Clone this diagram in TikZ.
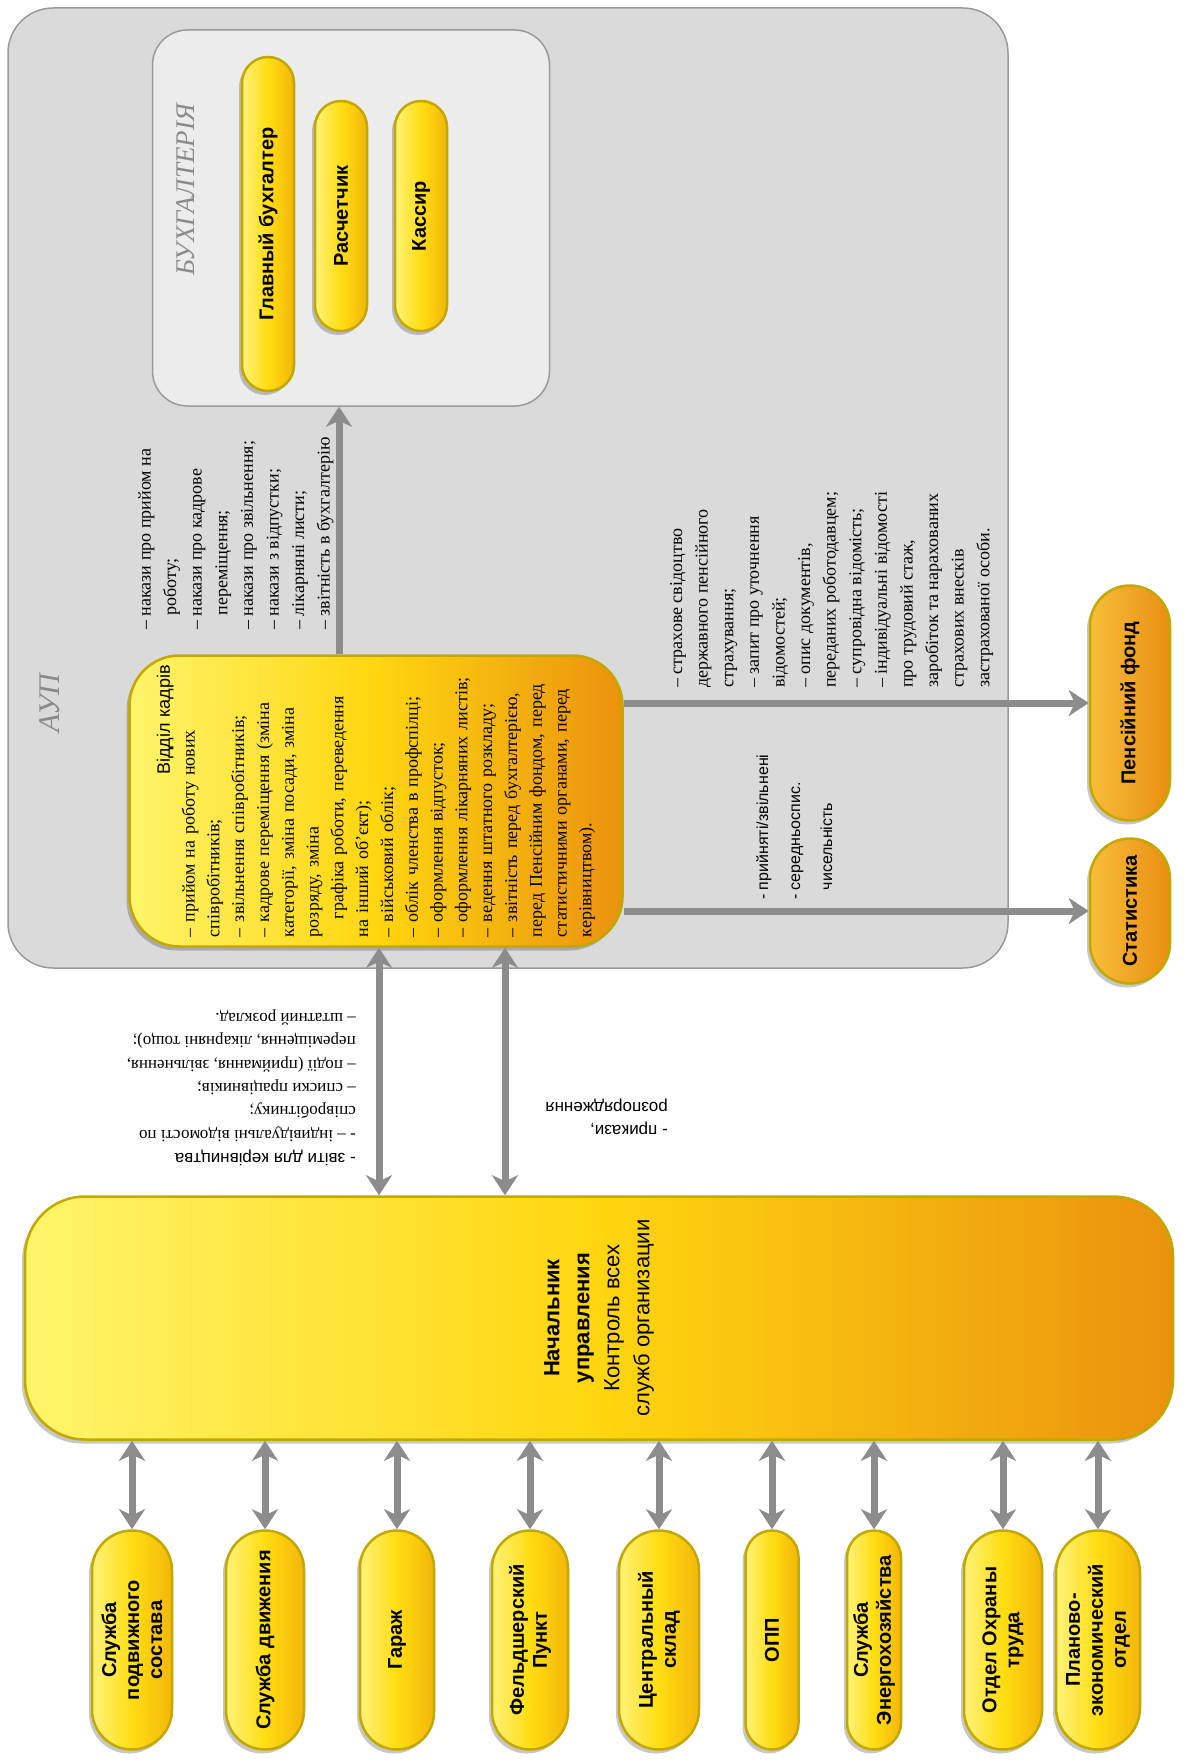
\documentclass[tikz,border=0pt]{standalone}
\usepackage{fontspec}
\setmainfont{Liberation Serif}
\setsansfont{Liberation Sans}
\usepackage{tikz}
\usetikzlibrary{arrows.meta,shapes.misc,shadows}
\definecolor{aupfill}{HTML}{DADADA}
\definecolor{aupline}{HTML}{9A9A9A}
\definecolor{buhfill}{HTML}{ECECEC}
\definecolor{arrowgray}{HTML}{8C8C8C}
\definecolor{lbl}{HTML}{8A8A8A}
\definecolor{pale}{HTML}{FFF46A}
\definecolor{yel}{HTML}{FFD60F}
\definecolor{orng}{HTML}{EA920E}
\definecolor{olive}{HTML}{C2A800}
\definecolor{pillleft}{HTML}{FFF27A}
\definecolor{pillmid}{HTML}{FFDD10}
\definecolor{pillright}{HTML}{F4B60A}
\definecolor{orleft}{HTML}{F7BE3A}
\definecolor{orright}{HTML}{E98E10}
\tikzset{
  shad/.style={drop shadow={shadow xshift=-3pt, shadow yshift=-4pt, fill=black, opacity=0.22}},
  aupbox/.style={fill=aupfill, draw=aupline, line width=1.5pt, rounded corners=45pt},
  buhbox/.style={fill=buhfill, draw=aupline, line width=1.5pt, rounded corners=35pt},
  pill/.style={rounded rectangle, rotate=90, draw=olive, line width=2.5pt, shad,
    left color=pillleft, right color=pillright, middle color=pillmid,
    font=\fontsize{20}{23}\selectfont\sffamily\bfseries, align=center, inner sep=1pt},
  opill/.style={pill, left color=orleft, right color=orright, middle color=orleft!50!orright},
  bigbox/.style={rectangle, rotate=90, draw=olive, line width=2.5pt, shad,
    left color=pale, right color=orng, middle color=yel},
  note/.style={rotate=90, align=left, inner sep=0pt, font=\fontsize{18}{25.6}\selectfont},
  upnote/.style={rotate=180, align=left, inner sep=0pt, font=\fontsize{17}{23.3}\selectfont},
  title/.style={rotate=90, text=lbl, font=\itshape},
  arrow/.style={draw=arrowgray, line width=7pt, -{Stealth[length=20pt,width=26pt,inset=6pt]}},
  dblarrow/.style={draw=arrowgray, line width=7pt,
    {Stealth[length=20pt,width=26pt,inset=6pt]}-{Stealth[length=20pt,width=26pt,inset=6pt]}}
}
\begin{document}
\begin{tikzpicture}[x=1pt,y=-1pt]
  \useasboundingbox (0,0) rectangle (1187,1760);
  \fill[white] (0,0) rectangle (1187,1760);

  % АУП
  \draw[aupbox] (8,8) rectangle (1008,968);
  \node[title, font=\fontsize{30}{36}\selectfont\itshape] (aup) at (50,703) {АУП};

  % бухгалтерия
  \node[buhbox, minimum width=397pt, minimum height=376pt] (buh) at (351,218) {};
  \node[title, font=\fontsize{27}{32}\selectfont\itshape] (buht) at (186,190) {БУХГАЛТЕРІЯ};
  \node[pill, minimum width=336pt, minimum height=52pt] (gb) at (268,224) {Главный бухгалтер};
  \node[pill, minimum width=232pt, minimum height=52pt] (ras) at (341,216) {Расчетчик};
  \node[pill, minimum width=232pt, minimum height=52pt] (kas) at (421,216) {Кассир};

  % отдел кадров
  \node[bigbox, rounded corners=50pt, minimum width=291pt, minimum height=493pt,
    text width=272pt, align=left, font=\fontsize{18}{24.8}\selectfont] (vk) at (376,801) {%
    \hspace*{\fill}{\sffamily Відділ кадрів}\hspace*{\fill}\\
    – прийом на роботу нових\\
    співробітників;\\
    – звільнення співробітників;\\
    – кадрове переміщення (зміна\\
    категорії, зміна посади, зміна\\
    розряду, зміна\\
    \hspace*{1em}графіка роботи, переведення\\
    на інший об’єкт);\\
    – військовий облік;\\
    – облік членства в профспілці;\\
    – оформлення відпусток;\\
    – оформлення лікарняних листів;\\
    – ведення штатного розкладу;\\
    – звітність перед бухгалтерією,\\
    перед Пенсійним фондом, перед\\
    статистичними органами, перед\\
    керівництвом).};

  \node[note, anchor=north west] (nak) at (138,630) {%
    – накази про прийом на\\
    \hspace*{0.8em}роботу;\\
    – накази про кадрове\\
    \hspace*{0.8em}переміщення;\\
    – накази про звільнення;\\
    – накази з відпустки;\\
    – лікарняні листи;\\
    – звітність в бухгалтерію};

  % внешние
  \node[opill, minimum width=237pt, minimum height=80pt] (pf) at (1130,703) {Пенсійний фонд};
  \node[opill, minimum width=147pt, minimum height=80pt] (st) at (1130,911) {Статистика};

  \node[note, anchor=north west] (pfn) at (670,688) {%
    – страхове свідоцтво\\
    державного пенсійного\\
    страхування;\\
    – запит про уточнення\\
    відомостей;\\
    – опис документів,\\
    переданих роботодавцем;\\
    – супровідна відомість;\\
    – індивідуальні відомості\\
    про трудовий стаж,\\
    заробіток та нарахованих\\
    страхових внесків\\
    застрахованої особи.};

  \node[note, anchor=north west, font=\fontsize{16}{32}\selectfont\sffamily] (stn) at (756,900) {%
    - прийняті/звільнені\\
    - середньоспис.\\
    \hspace*{0.6em}чисельність};

  % начальник
  \node[bigbox, rounded corners=60pt, minimum width=243pt, minimum height=1148pt,
    align=center, font=\fontsize{22}{30}\selectfont\sffamily] (boss) at (599,1318) {%
    \textbf{Начальник}\\
    \textbf{управления}\\
    Контроль всех\\
    служб организации};

  \node[upnote, anchor=north west] (zvt) at (356,1166) {%
    {\sffamily - звіти для керівництва}\\
    - – індивідуальні відомості по\\
    співробітнику;\\
    – списки працівників;\\
    – події (приймання, звільнення,\\
    переміщення, лікарняні тощо);\\
    – штатний розклад.};
  \node[upnote, anchor=north west, font=\fontsize{17}{23.3}\selectfont\sffamily] (prk) at (668,1135) {%
    - прикази,\\
    розпорядження};

  % службы
  \foreach \nm/\px/\pw/\txt in {
    p1/132/80/{Служба\\подвижного\\состава},
    p2/265/78/{Служба движения},
    p3/397/74/{Гараж},
    p4/530/76/{Фельдшерский\\Пункт},
    p5/659/80/{Центральный\\склад},
    p6/772/53/{ОПП},
    p7/874/54/{Служба\\Энергохозяйства},
    p8/1003/78/{Отдел Охраны\\труда},
    p9/1098/84/{Планово-\\экономический\\отдел}}
    \node[pill, minimum width=221pt, minimum height=\pw pt] (\nm) at (\px,1640) {\txt};

  % стрелки
  \coordinate (ka) at (339,0);
  \coordinate (da) at (379,0);
  \coordinate (db) at (505,0);
  \draw[arrow] (vk.east -| ka) -- (buh.south -| ka);
  \draw[arrow] (vk.south |- pf) -- (pf.north);
  \draw[arrow] (vk.south |- st) -- (st.north);
  \draw[dblarrow] (vk.west -| da) -- (boss.east -| da);
  \draw[dblarrow] (vk.west -| db) -- (boss.east -| db);
  \foreach \nm in {p1,p2,p3,p4,p5,p6,p7,p8,p9}
    \draw[dblarrow] (\nm.east |- boss.west) -- (\nm.east);
\end{tikzpicture}
\end{document}
